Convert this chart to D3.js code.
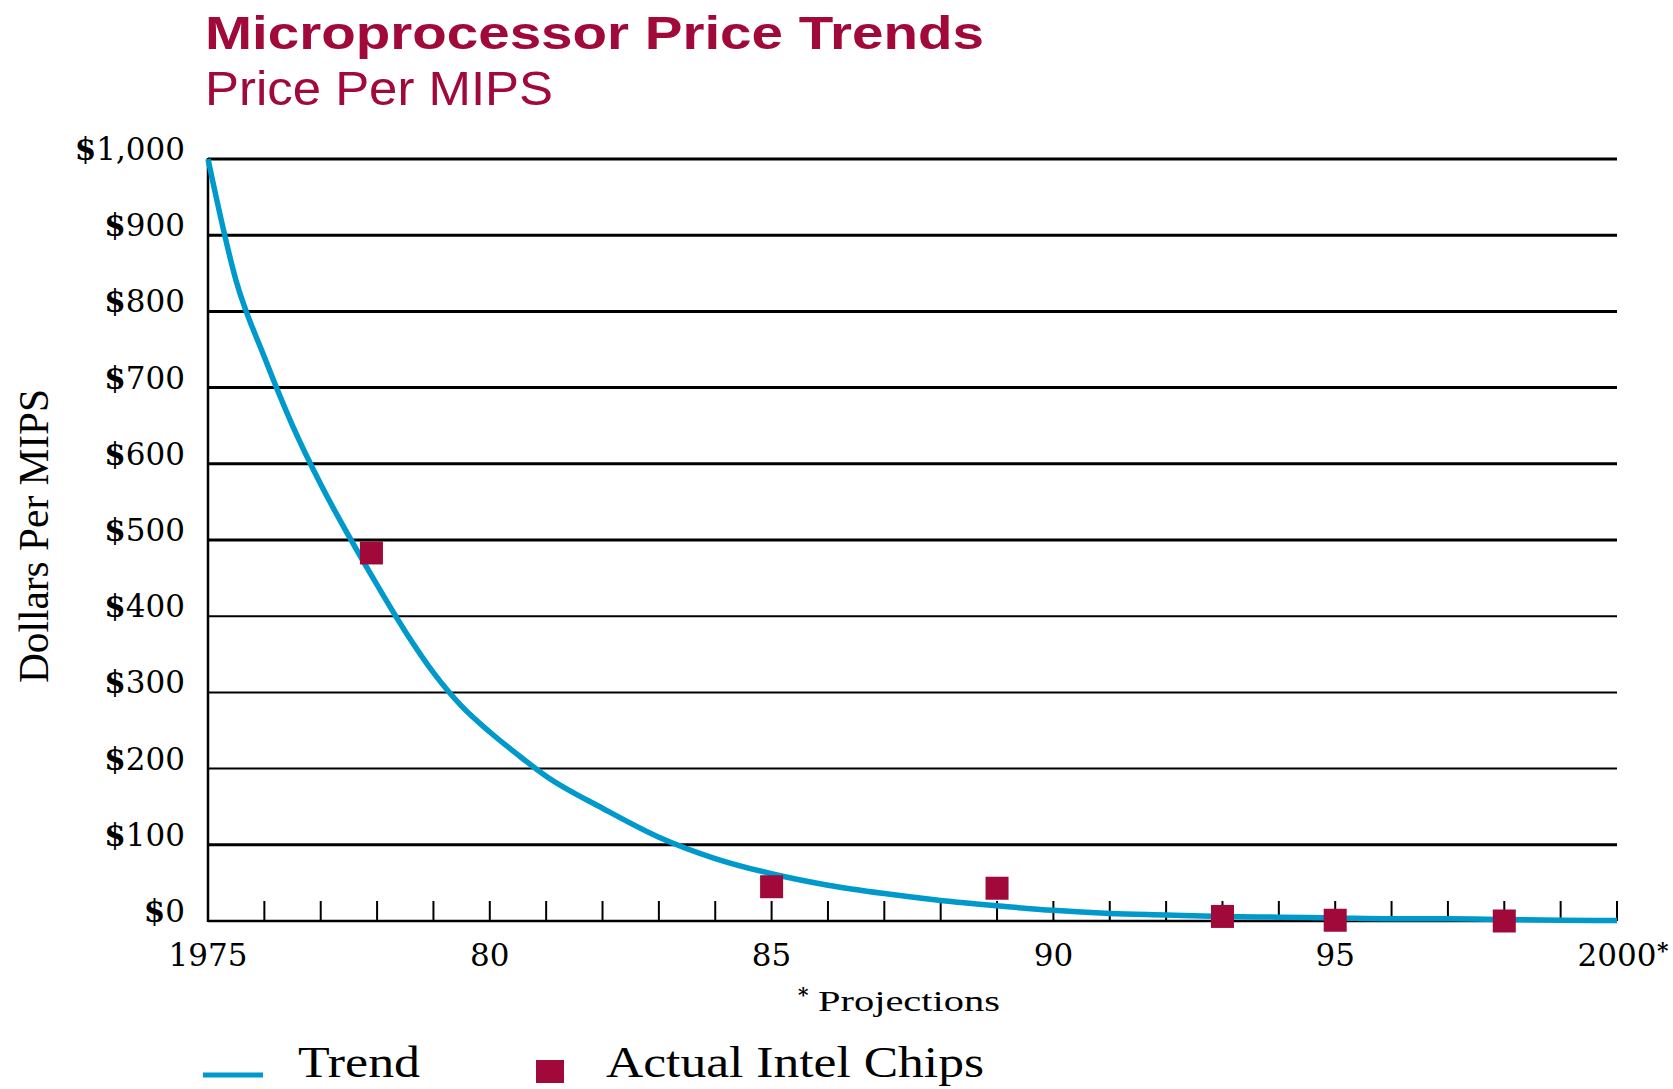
<!DOCTYPE html>
<html>
<head>
<meta charset="utf-8">
<script src="https://cdn.jsdelivr.net/npm/d3@7/dist/d3.min.js"></script>
<style>
  html, body { margin: 0; padding: 0; background: #fff; }
  svg { display: block; }
</style>
</head>
<body>
<svg id="chart" width="1673" height="1089"></svg>
<script>
// ---------------- DATA ----------------
const trendYears  = [1975, 1975.5, 1976, 1976.5, 1977, 1977.5, 1978, 1978.5, 1979, 1979.5, 1980, 1980.5, 1981, 1982, 1983, 1984, 1985, 1986, 1987, 1988, 1989, 1990, 1991, 1992, 1993, 1994, 1995, 1996, 1997, 1998, 1999, 2000];
const trendValues = [1000, 840, 740, 650, 573, 505, 441, 380, 326, 282, 248, 218, 190, 148, 110, 82, 62, 47, 36, 27, 20, 14, 10, 8, 6, 5, 4, 3, 3, 2, 1, 0.5];

const chipYears  = [1977.9, 1985, 1989, 1993, 1995, 1998];
const chipValues = [483, 45, 43, 6, 1, 0];

const yTickValues = [0, 100, 200, 300, 400, 500, 600, 700, 800, 900, 1000];
const yTickLabels = ["$0", "$100", "$200", "$300", "$400", "$500", "$600", "$700", "$800", "$900", "$1,000"];
const xMinorTicks = d3.range(1975, 2001);
const xTickValues = [1975, 1980, 1985, 1990, 1995, 2000];
const xTickLabels = ["1975", "80", "85", "90", "95", "2000*"];

const titleText = "Microprocessor Price Trends";
const subtitleText = "Price Per MIPS";
const yAxisTitle = "Dollars Per MIPS";
const footnote = "Projections";
const legendLabels = ["Trend", "Actual Intel Chips"];

// ---------------- STYLE ----------------
const CRIMSON = "#a0093a";
const BLUE = "#0099cc";
const SERIF = "'DejaVu Serif', serif";
const SERIF2 = "'Liberation Serif', serif";
const SANS = "'Liberation Sans', Arial, sans-serif";

const svg = d3.select("#chart");
const x = d3.scaleLinear().domain([1975, 2000]).range([208, 1617]);
const y = d3.scaleLinear().domain([0, 1000]).range([921, 159]);

// Title
svg.append("text").attr("x", 205).attr("y", 49)
  .attr("font-family", SANS).attr("font-weight", "bold").attr("font-size", 47)
  .attr("fill", CRIMSON).attr("textLength", 779).attr("lengthAdjust", "spacingAndGlyphs")
  .text(titleText);
svg.append("text").attr("x", 205).attr("y", 105)
  .attr("font-family", SANS).attr("font-size", 49)
  .attr("fill", CRIMSON).attr("textLength", 348).attr("lengthAdjust", "spacingAndGlyphs")
  .text(subtitleText);

// Gridlines
const grid = svg.append("g");
grid.selectAll("line").data(yTickValues.filter(v => v > 0)).join("line")
  .attr("x1", x(1975)).attr("x2", x(2000))
  .attr("y1", d => y(d)).attr("y2", d => y(d))
  .attr("stroke", "#000")
  .attr("stroke-width", d => (d >= 200 && d <= 400) ? 2 : 3);

// Axes lines
svg.append("line").attr("x1", x(1975)).attr("x2", x(2000)).attr("y1", y(0)).attr("y2", y(0))
  .attr("stroke", "#000").attr("stroke-width", 2.5);
svg.append("line").attr("x1", x(1975)).attr("x2", x(1975)).attr("y1", y(1000) - 1).attr("y2", y(0) + 1)
  .attr("stroke", "#000").attr("stroke-width", 2.5);

// Minor year ticks (pointing up)
svg.append("g").selectAll("line").data(xMinorTicks.filter(v => v > 1975)).join("line")
  .attr("x1", d => x(d)).attr("x2", d => x(d))
  .attr("y1", y(0)).attr("y2", y(0) - 20)
  .attr("stroke", "#000").attr("stroke-width", 2);

// Y tick labels
const yl = svg.append("g");
yTickValues.forEach((v, i) => {
  const t = yl.append("text").attr("x", 185).attr("y", y(v) + 1)
    .attr("text-anchor", "end").attr("font-family", SERIF).attr("font-size", 31).attr("fill", "#000");
  const lab = yTickLabels[i];
  t.append("tspan").attr("font-weight", "bold").text(lab.slice(0, 1));
  t.append("tspan").text(lab.slice(1));
});

// X tick labels
const xl = svg.append("g");
xTickValues.forEach((v, i) => {
  let lab = xTickLabels[i];
  const star = lab.endsWith("*");
  if (star) lab = lab.slice(0, -1);
  xl.append("text").attr("x", x(v)).attr("y", 966)
    .attr("text-anchor", "middle").attr("font-family", SERIF).attr("font-size", 31)
    .attr("fill", "#000").text(lab);
  if (star) {
    xl.append("text").attr("x", x(v) + 40).attr("y", 958)
      .attr("font-family", SERIF).attr("font-weight", "bold").attr("font-size", 22).attr("fill", "#000").text("*");
  }
});

// Footnote
svg.append("text").attr("x", 798).attr("y", 1002)
  .attr("font-family", SERIF).attr("font-weight", "bold").attr("font-size", 20).attr("fill", "#000").text("*");
svg.append("text").attr("x", 818).attr("y", 1011)
  .attr("font-family", SERIF2).attr("font-size", 29).attr("fill", "#000")
  .attr("textLength", 182).attr("lengthAdjust", "spacingAndGlyphs").text(footnote);

// Y axis title
svg.append("text").attr("transform", "translate(48,536) rotate(-90)")
  .attr("text-anchor", "middle").attr("font-family", SERIF2).attr("font-size", 42)
  .attr("fill", "#000").attr("textLength", 294).attr("lengthAdjust", "spacingAndGlyphs")
  .text(yAxisTitle);

// Trend line
const line = d3.line().x(d => x(d[0])).y(d => y(d[1])).curve(d3.curveMonotoneX);
svg.append("path").datum(trendYears.map((yr, i) => [yr, trendValues[i]]))
  .attr("d", line).attr("fill", "none").attr("stroke", BLUE).attr("stroke-width", 5.5);

// Actual chips
const SQ = 23;
svg.append("g").selectAll("rect").data(chipYears.map((yr, i) => [yr, chipValues[i]])).join("rect")
  .attr("x", d => x(d[0]) - SQ / 2).attr("y", d => y(d[1]) - SQ / 2)
  .attr("width", SQ).attr("height", SQ).attr("fill", CRIMSON);

// Legend
svg.append("line").attr("x1", 203).attr("x2", 263).attr("y1", 1075).attr("y2", 1075)
  .attr("stroke", BLUE).attr("stroke-width", 5);
svg.append("text").attr("x", 298).attr("y", 1077)
  .attr("font-family", SERIF2).attr("font-size", 44).attr("fill", "#000")
  .attr("textLength", 122).attr("lengthAdjust", "spacingAndGlyphs").text(legendLabels[0]);
svg.append("rect").attr("x", 536).attr("y", 1060).attr("width", 28).attr("height", 23).attr("fill", CRIMSON);
svg.append("text").attr("x", 606).attr("y", 1077)
  .attr("font-family", SERIF2).attr("font-size", 44).attr("fill", "#000")
  .attr("textLength", 378).attr("lengthAdjust", "spacingAndGlyphs").text(legendLabels[1]);
</script>
</body>
</html>
